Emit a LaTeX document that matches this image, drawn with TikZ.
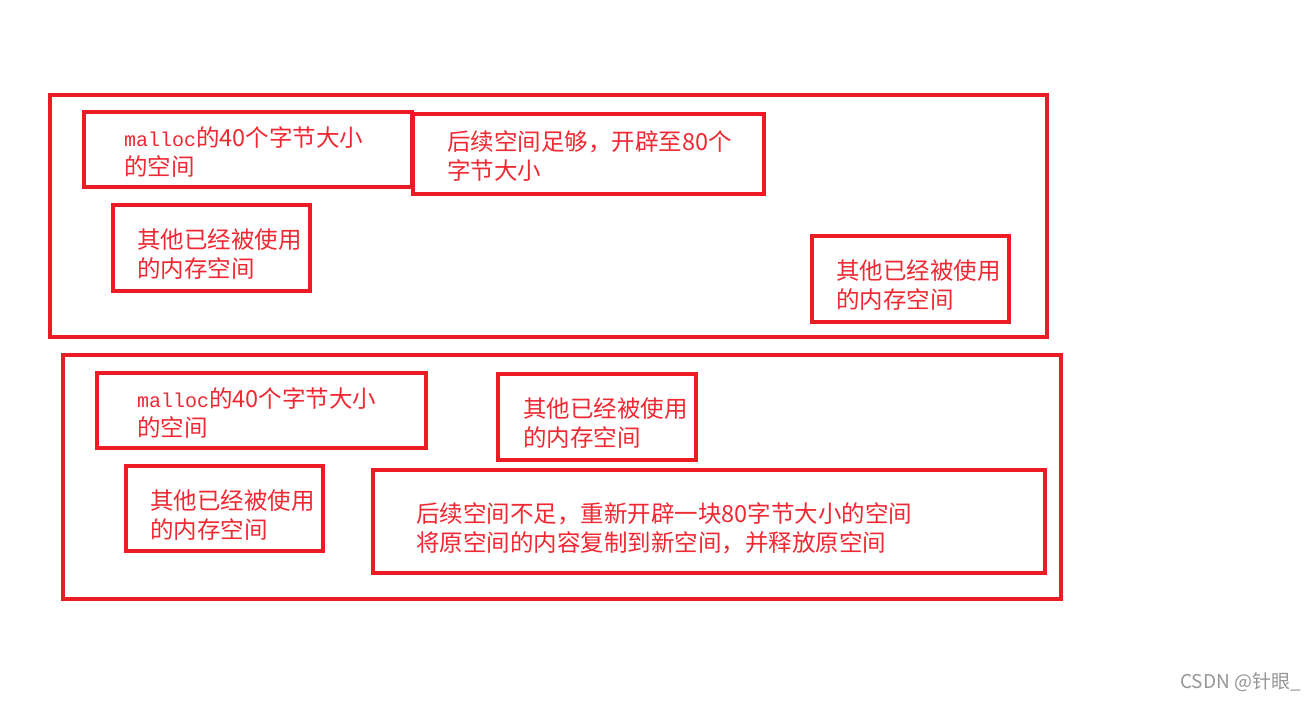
\documentclass[tikz,border=0pt]{standalone}
\usepackage{fontspec}
\newfontfamily\cjk{Noto Sans CJK SC}
\newfontfamily\monof{Liberation Mono}
\definecolor{boxred}{RGB}{237,28,36}
\definecolor{txtred}{RGB}{240,40,50}
\definecolor{wmgray}{RGB}{150,150,150}
\begin{document}
\begin{tikzpicture}[x=1pt,y=-1pt,
  membox/.style={draw=boxred,line width=4pt},
  memtext/.style={anchor=west,align=left,inner sep=0pt,text=txtred,
    font=\cjk\fontsize{23.5}{29}\selectfont}]
\useasboundingbox (0,0) rectangle (1315,702);
\fill[white] (0,0) rectangle (1315,702);
% top group
\draw[membox] (50,95) rectangle (1047,337);
\draw[membox] (84,112) rectangle (412,187);
\draw[membox] (413,114) rectangle (764,194);
\draw[membox] (113,205) rectangle (310,291);
\draw[membox] (812,236) rectangle (1009,322);
\node[memtext] (a1) at (124,152) {{\monof\fontsize{20}{29}\selectfont malloc}的40个字节大小\\的空间};
\node[memtext] (a2) at (447,156) {后续空间足够，开辟至80个\\字节大小};
\node[memtext] (a3) at (137,254) {其他已经被使用\\的内存空间};
\node[memtext] (a4) at (836,285) {其他已经被使用\\的内存空间};
% bottom group
\draw[membox] (63,355) rectangle (1061,599);
\draw[membox] (97,373) rectangle (426,448);
\draw[membox] (498,374) rectangle (696,460);
\draw[membox] (126,466) rectangle (323,551);
\draw[membox] (373,470) rectangle (1045,573);
\node[memtext] (b1) at (137,413) {{\monof\fontsize{20}{29}\selectfont malloc}的40个字节大小\\的空间};
\node[memtext] (b2) at (523,423) {其他已经被使用\\的内存空间};
\node[memtext] (b3) at (150,515) {其他已经被使用\\的内存空间};
\node[memtext] (b4) at (416,528) {后续空间不足，重新开辟一块80字节大小的空间\\将原空间的内容复制到新空间，并释放原空间};
% watermark
\node[anchor=east,inner sep=0pt,text=wmgray,font=\cjk\fontsize{19}{22}\selectfont] (wm) at (1301,682) {CSDN @针眼\_};
\end{tikzpicture}
\end{document}
